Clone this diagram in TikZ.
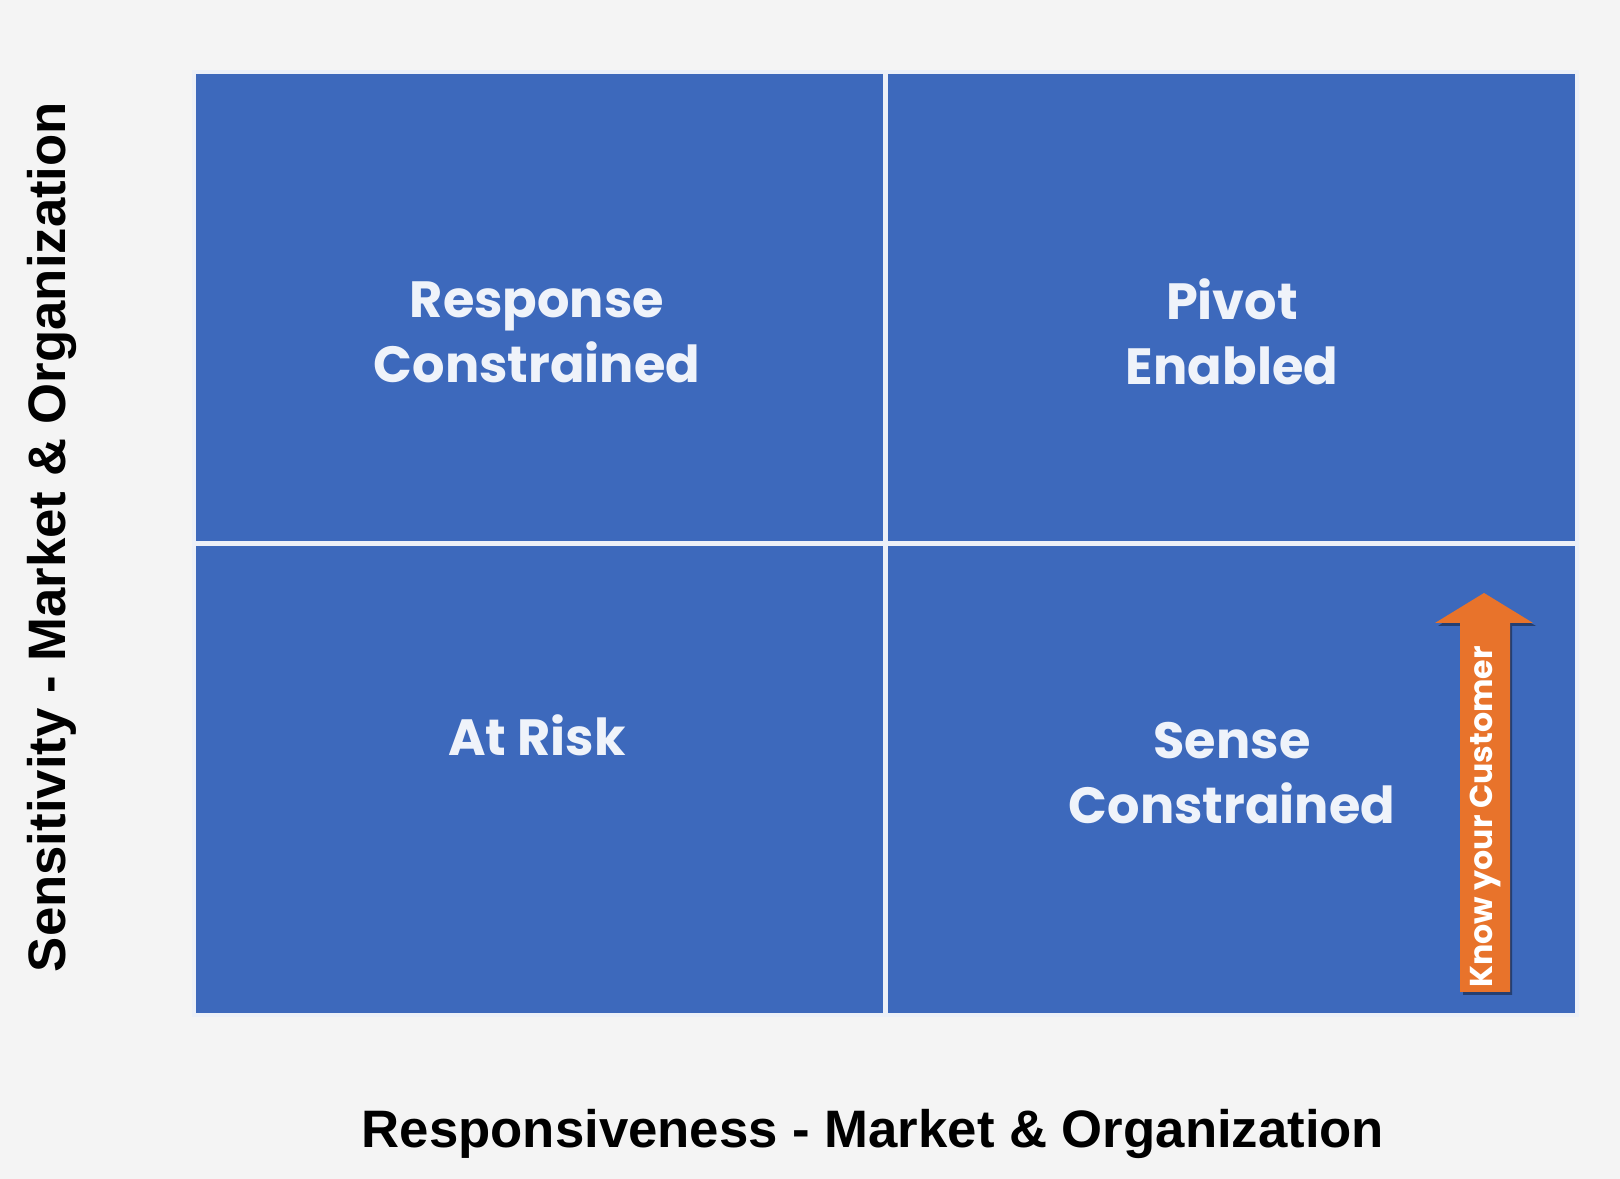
\documentclass[tikz,border=0pt]{standalone}
\usepackage{fontspec}
\setmainfont{Liberation Sans}
\newfontfamily\quadfont{Poppins}
\usetikzlibrary{positioning,shapes.arrows}
\definecolor{quadblue}{HTML}{3D69BC}
\definecolor{kycorange}{HTML}{E8732B}
\definecolor{pagegray}{HTML}{F4F4F4}

\begin{document}
\begin{tikzpicture}[
    quad/.style={rectangle,fill=quadblue,draw=white!90!quadblue,line width=1.2pt,minimum width=6.91cm,minimum height=4.71cm,inner sep=0pt},
    quadlabel/.style={text=white!92!quadblue,font=\quadfont\fontsize{14.5}{18.5}\selectfont\bfseries,align=center},
    axislabel/.style={font=\fontsize{15}{18}\selectfont\bfseries,text=black}
]

\fill[pagegray] (0,0) rectangle (16.2,11.79);
\useasboundingbox (0,0) rectangle (16.2,11.79);

% quadrants
\node[quad] (tl) at (5.395,8.715) {};
\node[quad] (tr) at (12.315,8.715) {};
\node[quad] (bl) at (5.395,3.995) {};
\node[quad] (br) at (12.315,3.995) {};

\node[quadlabel] (resp) at (5.37,8.47) {Response\\Constrained};
\node[quadlabel] (pivot) at (12.32,8.47) {Pivot\\Enabled};
\node[quadlabel] (risk) at (5.37,4.44) {At Risk};
\node[quadlabel] (sense) at (12.32,4.06) {Sense\\Constrained};

% arrow
\fill[black!40!quadblue] (14.63,1.84) -- (14.63,5.53) -- (14.38,5.53) -- (14.84,5.83) -- (15.36,5.53) -- (15.12,5.53) -- (15.12,1.84) -- cycle;
\fill[kycorange] (14.60,1.87) -- (14.60,5.56) -- (14.35,5.56) -- (14.84,5.86) -- (15.33,5.56) -- (15.10,5.56) -- (15.10,1.87) -- cycle;
\node[rotate=90,text=white,font=\quadfont\fontsize{9}{11}\selectfont\bfseries] (kyc) at (14.85,3.62) {Know your Customer};

% axes
\node[axislabel,rotate=90] (ylab) at (0.52,6.42) {Sensitivity - Market \& Organization};
\node[axislabel] (xlab) at (8.73,0.45) {Responsiveness - Market \& Organization};

\end{tikzpicture}
\end{document}
